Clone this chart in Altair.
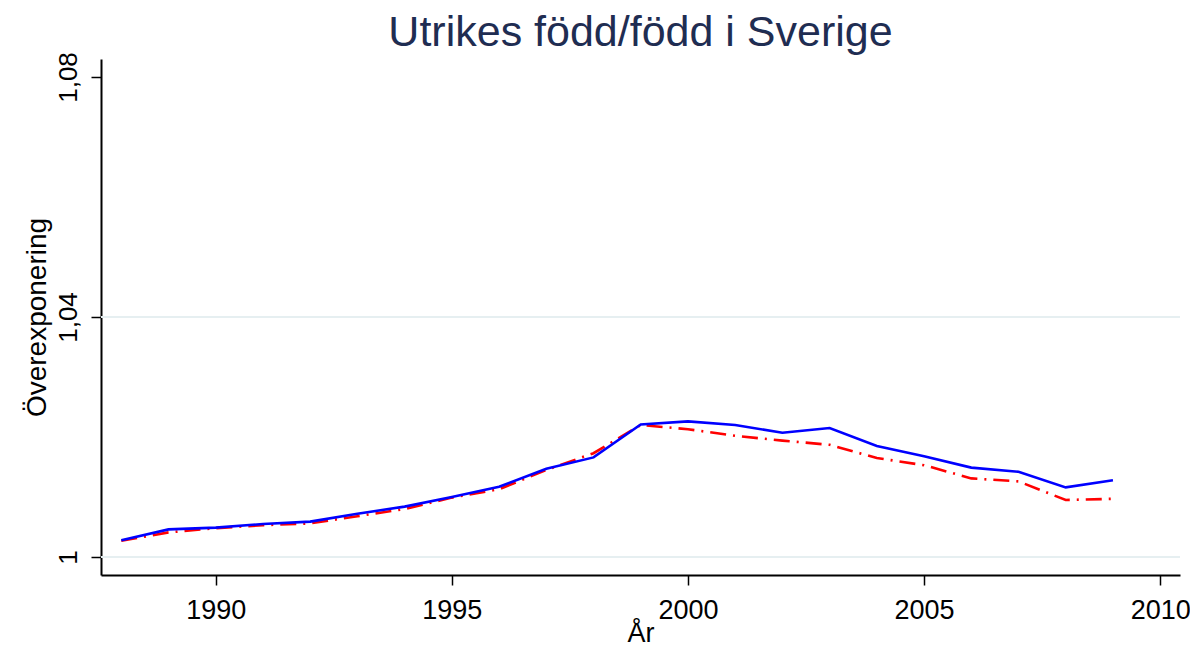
import altair as alt
import pandas as pd

years = list(range(1988, 2010))
blue_vals = [1.0028, 1.0046, 1.0049, 1.0055, 1.0059, 1.0072, 1.0084, 1.0100, 1.0117, 1.0147, 1.0166,
             1.0221, 1.0226, 1.0220, 1.0207, 1.0215, 1.0185, 1.0168, 1.0149, 1.0142, 1.0116, 1.0128]
red_vals = [1.0027, 1.0041, 1.0048, 1.0053, 1.0056, 1.0068, 1.0080, 1.0099, 1.0113, 1.0145, 1.0173,
            1.0220, 1.0213, 1.0202, 1.0194, 1.0187, 1.0165, 1.0153, 1.0131, 1.0126, 1.0095, 1.0097]
series_names = ["Serie A", "Serie B"]
y_ticks = [1.0, 1.04, 1.08]
grid_vals = [1.0, 1.04]
x_ticks = [1990, 1995, 2000, 2005, 2010]

FONT = "Liberation Sans"

blue_df = pd.DataFrame({"År": years, "Överexponering": blue_vals, "serie": series_names[0]})
red_df = pd.DataFrame({"År": years, "Överexponering": red_vals, "serie": series_names[1]})
grid_df = pd.DataFrame({"Överexponering": grid_vals})

x_scale = alt.Scale(domain=[1987.57, 2010.42], nice=False, zero=False)
y_scale = alt.Scale(domain=[0.997, 1.083], nice=False, zero=False)

x_axis = alt.Axis(values=x_ticks, format="d", title="År", grid=False,
                  domainColor="black", domainWidth=2, tickColor="black", tickWidth=1.5,
                  tickSize=10, labelFontSize=27, labelFont=FONT, labelColor="black",
                  labelPadding=12, labelFlush=False,
                  titleFont=FONT, titleFontSize=27, titleFontWeight="normal",
                  titleColor="black", titleBaseline="alphabetic", titleY=66)
y_axis = alt.Axis(values=y_ticks, title="Överexponering", grid=False,
                  labelExpr="replace(format(datum.value, '.2~f'), '.', ',')",
                  labelAngle=-90, labelAlign="center", labelBaseline="alphabetic",
                  domainColor="black", domainWidth=2, tickColor="black", tickWidth=1.5,
                  tickSize=10, labelFontSize=26, labelFont=FONT, labelColor="black",
                  labelPadding=15, labelFlush=False,
                  titleFont=FONT, titleFontSize=28, titleFontWeight="normal",
                  titleColor="black", titleBaseline="alphabetic", titleAngle=-90,
                  titleX=-56, titleY=258, titleAlign="center")

grid = alt.Chart(grid_df).mark_rule(color="#e6eff1", strokeWidth=2).encode(
    y=alt.Y("Överexponering:Q", scale=y_scale, axis=y_axis)
)

red_line = alt.Chart(red_df).mark_line(
    color="#ff0000", strokeWidth=2.6, strokeDash=[16, 7, 2, 7]
).encode(
    x=alt.X("År:Q", scale=x_scale, axis=x_axis),
    y=alt.Y("Överexponering:Q", scale=y_scale, axis=y_axis),
)

blue_line = alt.Chart(blue_df).mark_line(
    color="#0000ff", strokeWidth=2.6
).encode(
    x=alt.X("År:Q", scale=x_scale, axis=x_axis),
    y=alt.Y("Överexponering:Q", scale=y_scale, axis=y_axis),
)

chart = alt.layer(grid, red_line, blue_line).properties(
    width=1079,
    height=516,
    title=alt.TitleParams("Utrikes född/född i Sverige", font=FONT, fontSize=43,
                          fontWeight="normal", color="#1f2d52", anchor="middle",
                          baseline="alphabetic", offset=-37),
    autosize=alt.AutoSizeParams(type="none"),
    padding={"left": 93, "top": 51, "right": 10, "bottom": 73},
    background="white",
).configure_view(stroke=None)

chart.save("out.html", embed_options={"renderer": "svg", "actions": False})
